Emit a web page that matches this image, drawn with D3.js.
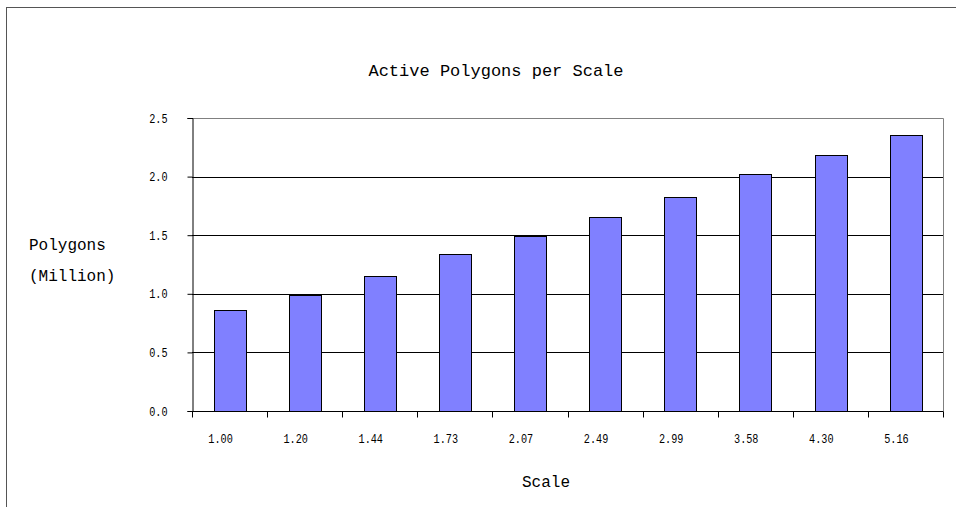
<!DOCTYPE html>
<html>
<head>
<meta charset="utf-8">
<script src="https://cdn.jsdelivr.net/npm/d3@7"></script>
<style>
  body { margin: 0; background: #fff; }
  text { font-family: "Liberation Mono", "DejaVu Sans Mono", monospace; fill: #000; }
</style>
</head>
<body>
<svg id="chart"></svg>
<script>
// data
const scales = ['1.00', '1.20', '1.44', '1.73', '2.07', '2.49', '2.99', '3.58', '4.30', '5.16'];
const polygons = [0.862, 0.99, 1.152, 1.342, 1.493, 1.656, 1.829, 2.025, 2.188, 2.358];
const yTicks = [0, 0.5, 1.0, 1.5, 2.0, 2.5];

const data = scales.map((s, i) => ({scale: s, value: polygons[i]}));

const width = 956, height = 507;
const margin = {top: 118, right: 13, bottom: 96, left: 192};
const innerW = width - margin.left - margin.right;
const innerH = height - margin.top - margin.bottom;

const svg = d3.select('#chart')
  .attr('width', width)
  .attr('height', height);

// outer frame
svg.append('rect')
  .attr('x', 6.5).attr('y', 7.5)
  .attr('width', 1000).attr('height', 1000)
  .attr('fill', 'none')
  .attr('stroke', '#555')
  .attr('stroke-width', 1);

const chart = svg.append('g')
  .attr('transform', `translate(${margin.left}, ${margin.top})`);

const x = d3.scaleBand()
  .domain(scales)
  .range([0, innerW])
  .paddingInner(0.58)
  .paddingOuter(0.29);

const y = d3.scaleLinear()
  .domain([0, 2.5])
  .range([innerH, 0]);

// plot area border (top + right, grey)
chart.append('path')
  .attr('d', `M0.5,0.5H${innerW + 0.5}V${innerH}`)
  .attr('fill', 'none')
  .attr('stroke', '#808080');

// gridlines
chart.append('g')
  .attr('class', 'grid')
  .call(d3.axisLeft(y).tickValues(yTicks.slice(1, -1)).tickSize(-innerW).tickFormat(''))
  .call(g => g.select('.domain').remove())
  .call(g => g.selectAll('line').attr('stroke', '#000').attr('shape-rendering', 'crispEdges'));

// bars
chart.selectAll('.bar')
  .data(data)
  .join('rect')
  .attr('class', 'bar')
  .attr('x', d => Math.round(x(d.scale)) + 0.5)
  .attr('y', d => Math.round(y(d.value)) + 0.5)
  .attr('width', Math.round(x.bandwidth()))
  .attr('height', d => Math.round(innerH - y(d.value)))
  .attr('fill', '#8080ff')
  .attr('stroke', '#000')
  .attr('stroke-width', 1);

// y axis
const yAxis = chart.append('g')
  .attr('class', 'axis y-axis')
  .attr('transform', 'translate(0.5, 0)')
  .call(d3.axisLeft(y).tickValues(yTicks).tickFormat('').tickSize(5));
yAxis.selectAll('line, path').attr('stroke', '#000');
yAxis.selectAll('.tick')
  .append('text')
  .attr('transform', 'translate(-25, 4) scale(0.85, 1.1)')
  .attr('text-anchor', 'end')
  .attr('font-size', 12)
  .attr('fill', '#222')
  .text(d => d3.format('.1f')(d));

// x axis: ticks at category boundaries
const boundaries = d3.range(scales.length + 1).map(i => i * innerW / scales.length);
const xAxisG = chart.append('g')
  .attr('class', 'axis x-axis')
  .attr('transform', `translate(0, ${innerH + 0.5})`);
xAxisG.append('line')
  .attr('x1', 0).attr('x2', innerW + 0.5)
  .attr('stroke', '#000');
xAxisG.selectAll('.tick')
  .data(boundaries)
  .join('line')
  .attr('class', 'tick')
  .attr('x1', d => Math.round(d) + 0.5).attr('x2', d => Math.round(d) + 0.5)
  .attr('y1', 0).attr('y2', 6)
  .attr('stroke', '#000');
xAxisG.selectAll('.label')
  .data(scales)
  .join('text')
  .attr('class', 'label')
  .attr('transform', d => `translate(${x(d) + x.bandwidth() / 2 - 9}, 31) scale(0.85, 1.1)`)
  .attr('text-anchor', 'middle')
  .attr('font-size', 12)
  .attr('fill', '#222')
  .text(d => d);

// titles
svg.append('text')
  .attr('x', 496).attr('y', 76)
  .attr('text-anchor', 'middle')
  .attr('font-size', 17)
  .text('Active Polygons per Scale');

svg.append('text')
  .attr('x', 546).attr('y', 487)
  .attr('text-anchor', 'middle')
  .attr('font-size', 16)
  .text('Scale');

svg.append('text')
  .attr('x', 29).attr('y', 250)
  .attr('font-size', 16)
  .text('Polygons');

svg.append('text')
  .attr('x', 29).attr('y', 281)
  .attr('font-size', 16)
  .text('(Million)');
</script>
</body>
</html>
